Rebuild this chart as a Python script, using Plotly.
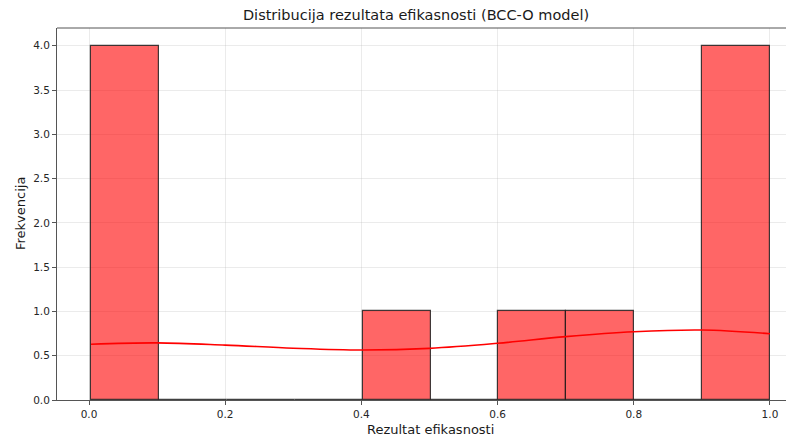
import plotly.graph_objects as go

# Data
bin_edges = [0.003, 0.1027, 0.2024, 0.3021, 0.4018, 0.5015, 0.6012, 0.7009, 0.8006, 0.9003, 1.0]
counts = [4, 0, 0, 0, 1, 0, 1, 1, 0, 4]
kde_x = [0.003, 0.1, 0.2, 0.3, 0.4, 0.5, 0.6, 0.7, 0.8, 0.9, 1.0]
kde_y = [0.63, 0.645, 0.62, 0.585, 0.565, 0.583, 0.64, 0.715, 0.77, 0.79, 0.748]
x_ticks = [0.0, 0.2, 0.4, 0.6, 0.8, 1.0]
y_ticks = [0.0, 0.5, 1.0, 1.5, 2.0, 2.5, 3.0, 3.5, 4.0]

centers = [(a + b) / 2 for a, b in zip(bin_edges[:-1], bin_edges[1:])]
widths = [b - a for a, b in zip(bin_edges[:-1], bin_edges[1:])]

# page has an 8px body margin; figure coordinates = page coordinates - 8
W, H = 786, 431
L, T, B = 49, 20, 39
PW, PH = W - L, H - T - B

font = "DejaVu Sans"
fig = go.Figure()
fig.add_trace(go.Bar(
    x=centers, y=counts, width=widths,
    marker=dict(color="rgba(255,0,0,0.6)", line=dict(color="rgba(30,30,30,0.85)", width=1.2)),
    showlegend=False, hoverinfo="skip",
))
fig.add_trace(go.Scatter(
    x=kde_x, y=kde_y, mode="lines", line=dict(color="#ff0000", width=1.6, shape="spline"),
    showlegend=False,
))

fig.update_layout(
    width=W, height=H,
    margin=dict(l=L, r=0, t=T, b=B),
    plot_bgcolor="white", paper_bgcolor="white",
    bargap=0,
    font=dict(family=font, color="#262626", size=10),
    title=dict(text="Distribucija rezultata efikasnosti (BCC-O model)",
               x=(416 - 8) / W, xref="container", xanchor="center",
               y=1 - (15 - 8) / H, yref="container", yanchor="middle",
               font=dict(family=font, size=14.5, color="#1a1a1a")),
    xaxis=dict(range=[-0.047, 1.0353], tickvals=x_ticks, ticktext=[f"{v:.1f}" for v in x_ticks],
               showgrid=True, gridcolor="rgba(176,176,176,0.25)", gridwidth=1,
               showline=True, linecolor="#555", linewidth=1, mirror=False,
               ticks="outside", ticklen=4, tickcolor="#555", zeroline=False,
               tickfont=dict(size=10.5, family=font, color="#262626")),
    yaxis=dict(range=[0, 4.2], tickvals=y_ticks, ticktext=[f"{v:.1f}" for v in y_ticks],
               showgrid=True, gridcolor="rgba(176,176,176,0.25)", gridwidth=1,
               showline=True, linecolor="#555", linewidth=1,
               ticks="outside", ticklen=4, tickcolor="#555", zeroline=False,
               tickfont=dict(size=10.5, family=font, color="#262626")),
    shapes=[dict(type="line", xref="paper", yref="paper", x0=0, x1=1, y0=1, y1=1,
                 line=dict(color="#555", width=1))],
    annotations=[
        dict(text="Rezultat efikasnosti", xref="paper", yref="paper",
             x=(430 - 57) / PW, y=-(429 - 400) / PH, xanchor="center", yanchor="middle",
             showarrow=False, font=dict(family=font, size=13, color="#1a1a1a")),
        dict(text="Frekvencija", xref="paper", yref="paper",
             x=-(57 - 20) / PW, y=(400 - 214) / PH, xanchor="center", yanchor="middle",
             textangle=-90, showarrow=False, font=dict(family=font, size=13, color="#1a1a1a")),
    ],
)
fig.write_html("out.html")
